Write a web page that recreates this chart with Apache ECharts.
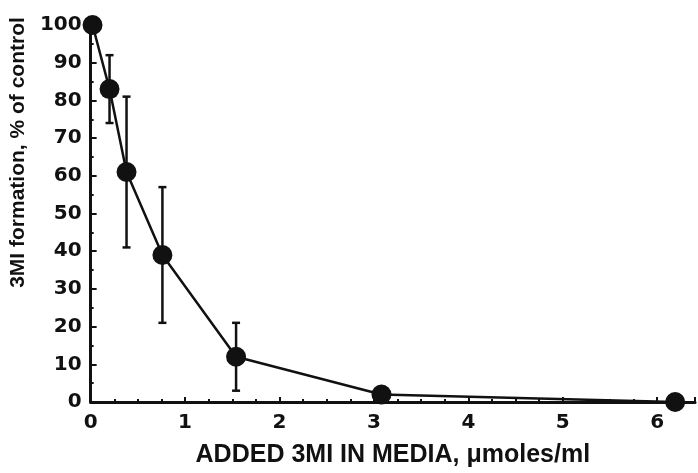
<!DOCTYPE html>
<html><head><meta charset="utf-8">
<script src="https://cdn.jsdelivr.net/npm/echarts@6/dist/echarts.min.js"></script>
<style>html,body{margin:0;padding:0;background:#fff}#c{width:698px;height:473px}</style>
</head><body><div id="c"></div>
<script>
const xValues = [0.02, 0.2, 0.38, 0.76, 1.54, 3.08, 6.19];
const yValues = [100, 83, 61, 39, 12, 2, 0];
const errLow  = [null, 74, 41, 21, 3, null, null];
const errHigh = [null, 92, 81, 57, 21, null, null];
const xTicks = ['0','1','2','3','4','5','6'];
const yTicks = ['0','10','20','30','40','50','60','70','80','90','100'];

const chart = echarts.init(document.getElementById('c'));
const pts = xValues.map((x, i) => [x, yValues[i]]);
const errData = xValues.map((x, i) => [x, errLow[i], errHigh[i]]).filter(d => d[1] != null);
const tickFont = {fontFamily: 'DejaVu Sans', fontWeight: 'bold', fontSize: 20, color: '#111'};
chart.setOption({
  animation: false,
  backgroundColor: '#fff',
  grid: {left: 87, right: 0, top: 25, bottom: 70},
  xAxis: {
    type: 'value', min: 0, max: 6.4, interval: 1,
    name: 'ADDED 3MI IN MEDIA, \u03bcmoles/ml', nameLocation: 'middle', nameGap: 41,
    nameTextStyle: {fontFamily: 'Liberation Sans', fontWeight: 'bold', fontSize: 25, color: '#111'},
    axisLine: {lineStyle: {color: '#111', width: 3}},
    axisTick: {inside: true, length: 5, lineStyle: {color: '#111', width: 2}},
    minorTick: {show: true, splitNumber: 4, length: 3, lineStyle: {color: '#111', width: 2}},
    axisLabel: {margin: 11, formatter: v => (Number.isInteger(v) ? xTicks[v] : ''), ...tickFont},
    splitLine: {show: false}
  },
  yAxis: {
    type: 'value', min: 0, max: 100, interval: 10,
    name: '3MI formation, % of control', nameLocation: 'middle', nameGap: 59,
    nameTextStyle: {fontFamily: 'Liberation Sans', fontWeight: 'bold', fontSize: 21, color: '#111', padding: [0, 0, 0, 122]},
    axisLine: {lineStyle: {color: '#111', width: 3}},
    axisTick: {inside: true, length: 6, lineStyle: {color: '#111', width: 2}},
    minorTick: {show: true, splitNumber: 2, length: 3, lineStyle: {color: '#111', width: 2}},
    axisLabel: {margin: 9, formatter: v => yTicks[Math.round(v / 10)], ...tickFont},
    splitLine: {show: false}
  },
  series: [
    {
      type: 'custom',
      data: errData,
      z: 1,
      renderItem: function (params, api) {
        const x = api.value(0);
        const lo = api.coord([x, api.value(1)]);
        const hi = api.coord([x, api.value(2)]);
        const cw = 4;
        const st = {stroke: '#111', lineWidth: 2.5};
        return {type: 'group', children: [
          {type: 'line', shape: {x1: lo[0], y1: lo[1], x2: hi[0], y2: hi[1]}, style: st},
          {type: 'line', shape: {x1: lo[0]-cw, y1: lo[1], x2: lo[0]+cw, y2: lo[1]}, style: st},
          {type: 'line', shape: {x1: hi[0]-cw, y1: hi[1], x2: hi[0]+cw, y2: hi[1]}, style: st}
        ]};
      }
    },
    {
      type: 'line',
      data: pts,
      z: 2,
      symbol: 'circle', symbolSize: 20,
      lineStyle: {color: '#111', width: 2.5},
      itemStyle: {color: '#111'}
    }
  ]
});
</script></body></html>
